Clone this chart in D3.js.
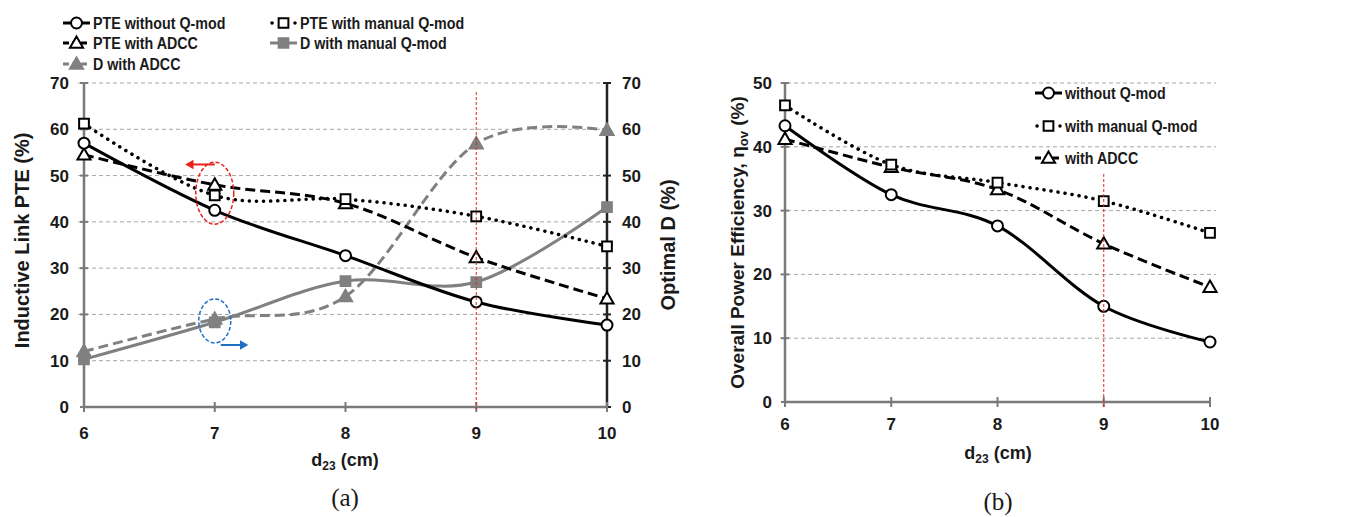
<!DOCTYPE html>
<html>
<head>
<meta charset="utf-8">
<script src="https://cdnjs.cloudflare.com/ajax/libs/d3/7.8.5/d3.min.js"></script>
<style>
  body { margin: 0; background: #fff; }
  svg text { font-family: "Liberation Sans", Arial, sans-serif; font-weight: bold; fill: #1a1a1a; }
  svg text.cap { font-family: "Liberation Serif", "Times New Roman", serif; font-weight: normal; }
</style>
</head>
<body>
<div id="chart"></div>
<script>
// shared x values (d23 in cm)
const distances = [6, 7, 8, 9, 10];

// (a) inductive link PTE and optimal D
const pteWithoutQmod = [57.0, 42.5, 32.7, 22.7, 17.7];
const pteManualQmod  = [61.2, 45.7, 44.9, 41.2, 34.7];
const pteAdcc        = [54.5, 48.0, 44.0, 32.3, 23.4];
const dManualQmod    = [10.3, 18.3, 27.2, 27.0, 43.2];
const dAdcc          = [12.0, 19.0, 23.9, 56.9, 59.8];

// (b) overall power efficiency
const ovWithoutQmod = [43.3, 32.5, 27.6, 15.0, 9.4];
const ovManualQmod  = [46.5, 37.2, 34.4, 31.5, 26.5];
const ovAdcc        = [41.2, 36.8, 33.3, 24.8, 18.0];

const ticksA = [0, 10, 20, 30, 40, 50, 60, 70];
const ticksB = [0, 10, 20, 30, 40, 50];

const GRAY = "#808080";
const AXIS = "#7a7a7a";
const TICK_FONT = 17;

const svg = d3.select("#chart").append("svg")
  .attr("width", 1353).attr("height", 517);

const styles = {
  solidBlack:  { stroke: "#000", dash: null, cap: "butt" },
  dashBlack:   { stroke: "#000", dash: "10,5", cap: "butt" },
  dotBlack:    { stroke: "#000", dash: "0.1,7", cap: "round" },
  solidGray:   { stroke: GRAY, dash: null, cap: "butt" },
  dashGray:    { stroke: GRAY, dash: "10,5", cap: "butt" }
};

function marker(g, shape, cx, cy, fill, stroke) {
  if (shape === "circle") {
    g.append("circle").attr("cx", cx).attr("cy", cy).attr("r", 5.5)
      .attr("fill", fill).attr("stroke", stroke).attr("stroke-width", 2);
  } else {
    const sym = shape === "square" ? d3.symbol(d3.symbolSquare, 95) : d3.symbol(d3.symbolTriangle, 75);
    g.append("path").attr("d", sym).attr("transform", `translate(${cx},${cy + (shape === "triangle" ? 1 : 0)})`)
      .attr("fill", fill).attr("stroke", stroke).attr("stroke-width", 2);
  }
}

function drawSeries(g, x, y, values, st, shape, fill) {
  const pts = distances.map((d, i) => [x(d), y(values[i])]);
  g.append("path")
    .attr("d", d3.line().curve(d3.curveCardinal.tension(0))(pts))
    .attr("fill", "none").attr("stroke", st.stroke).attr("stroke-width", st.cap === "round" ? 3.5 : 3)
    .attr("stroke-dasharray", st.dash).attr("stroke-linecap", st.cap);
  pts.forEach(p => marker(g, shape, p[0], p[1], fill, st.stroke));
}

function legendItem(g, lx, ly, label, st, shape, fill) {
  const dotted = st.cap === "round";
  g.append("line").attr("x1", dotted ? lx + 2 : lx).attr("x2", dotted ? lx + 25 : lx + 27)
    .attr("y1", ly).attr("y2", ly)
    .attr("stroke", st.stroke).attr("stroke-width", dotted ? 3.5 : 3)
    .attr("stroke-dasharray", st.dash ? (dotted ? "0.1,22.9" : "6,3") : null)
    .attr("stroke-linecap", st.cap);
  marker(g, shape, lx + 13.5, ly, fill, st.stroke);
  // narrow bold look of the original legend font
  g.append("text").attr("transform", `translate(${lx + 30},${ly + 6}) scale(0.84,1)`)
    .attr("font-size", 17).text(label);
}

function xAxisTitle(g, cx, cy) {
  const t = g.append("text").attr("x", cx).attr("y", cy).attr("text-anchor", "middle").attr("font-size", 18);
  t.append("tspan").text("d");
  t.append("tspan").attr("font-size", 12).attr("dy", 4).text("23");
  t.append("tspan").attr("dy", -4).text(" (cm)");
}

function crossTicksY(g, y, ticks, x0, color) {
  g.selectAll(null).data(ticks).join("line")
    .attr("x1", x0 - 4).attr("x2", x0 + 4)
    .attr("y1", d => y(d)).attr("y2", d => y(d))
    .attr("stroke", color).attr("stroke-width", 2);
}

// ---------------- (a) ----------------
{
  const g = svg.append("g");
  const x = d3.scaleLinear().domain([6, 10]).range([84, 607]);
  const y = d3.scaleLinear().domain([0, 70]).range([407, 83]);

  g.selectAll(".grid").data(ticksA.slice(1)).join("line")
    .attr("x1", 78).attr("x2", 607).attr("y1", d => y(d)).attr("y2", d => y(d))
    .attr("stroke", "#a6a6a6").attr("stroke-width", 1).attr("stroke-dasharray", "4,3");

  // axes
  g.append("line").attr("x1", x(6)).attr("x2", x(6)).attr("y1", y(70)).attr("y2", y(0)).attr("stroke", AXIS).attr("stroke-width", 2.5);
  crossTicksY(g, y, ticksA, x(6), AXIS);
  g.append("line").attr("x1", x(10)).attr("x2", x(10)).attr("y1", y(70)).attr("y2", y(0)).attr("stroke", "#222").attr("stroke-width", 2.5);
  crossTicksY(g, y, ticksA, x(10), "#222");
  g.append("line").attr("x1", x(6)).attr("x2", x(10)).attr("y1", y(0)).attr("y2", y(0)).attr("stroke", AXIS).attr("stroke-width", 2.5);
  g.selectAll(".xt").data(distances).join("line")
    .attr("x1", d => x(d)).attr("x2", d => x(d)).attr("y1", y(0) - 5).attr("y2", y(0) + 5)
    .attr("stroke", AXIS).attr("stroke-width", 2);

  g.selectAll(".yl").data(ticksA).join("text")
    .attr("x", x(6) - 15).attr("y", d => y(d) + 6).attr("text-anchor", "end").attr("font-size", TICK_FONT).text(d => d);
  g.selectAll(".yr").data(ticksA).join("text")
    .attr("x", x(10) + 15).attr("y", d => y(d) + 6).attr("text-anchor", "start").attr("font-size", TICK_FONT).text(d => d);
  g.selectAll(".xl").data(distances).join("text")
    .attr("x", d => x(d)).attr("y", 439).attr("text-anchor", "middle").attr("font-size", TICK_FONT).text(d => d);

  g.append("text").attr("transform", `translate(29,${y(36)}) rotate(-90)`).attr("text-anchor", "middle")
    .attr("font-size", 20).text("Inductive Link PTE (%)");
  g.append("text").attr("transform", `translate(675,${y(35)}) rotate(-90)`).attr("text-anchor", "middle")
    .attr("font-size", 20).text("Optimal D (%)");
  xAxisTitle(g, 345, 466);
  g.append("text").attr("class", "cap").attr("x", 345).attr("y", 506).attr("text-anchor", "middle").attr("font-size", 25).text("(a)");

  drawSeries(g, x, y, dAdcc, styles.dashGray, "triangle", GRAY);
  drawSeries(g, x, y, dManualQmod, styles.solidGray, "square", GRAY);
  drawSeries(g, x, y, pteAdcc, styles.dashBlack, "triangle", "#fff");
  drawSeries(g, x, y, pteManualQmod, styles.dotBlack, "square", "#fff");
  drawSeries(g, x, y, pteWithoutQmod, styles.solidBlack, "circle", "#fff");

  // annotations: left arrow for PTE, right arrow for D
  g.append("ellipse").attr("cx", x(7)).attr("cy", y(46.2)).attr("rx", 19).attr("ry", 31)
    .attr("fill", "none").attr("stroke", "#e8211c").attr("stroke-width", 1.5).attr("stroke-dasharray", "4,2");
  g.append("line").attr("x1", x(7)).attr("x2", x(7) - 22).attr("y1", y(52.4)).attr("y2", y(52.4))
    .attr("stroke", "#e8211c").attr("stroke-width", 2);
  g.append("path").attr("d", d3.symbol(d3.symbolTriangle, 40)).attr("fill", "#e8211c")
    .attr("transform", `translate(${x(7) - 24},${y(52.4)}) rotate(-90)`);
  g.append("ellipse").attr("cx", x(7)).attr("cy", y(18.6)).attr("rx", 16).attr("ry", 22)
    .attr("fill", "none").attr("stroke", "#1f6fc4").attr("stroke-width", 1.5).attr("stroke-dasharray", "4,2");
  g.append("line").attr("x1", x(7) + 6).attr("x2", x(7) + 26).attr("y1", y(13.4)).attr("y2", y(13.4))
    .attr("stroke", "#1f6fc4").attr("stroke-width", 2);
  g.append("path").attr("d", d3.symbol(d3.symbolTriangle, 40)).attr("fill", "#1f6fc4")
    .attr("transform", `translate(${x(7) + 28},${y(13.4)}) rotate(90)`);

  g.append("line").attr("x1", x(9)).attr("x2", x(9)).attr("y1", 92).attr("y2", y(0) + 5)
    .attr("stroke", "#e8211c").attr("stroke-width", 1).attr("stroke-dasharray", "3,2");

  legendItem(g, 63, 23, "PTE without Q-mod", styles.solidBlack, "circle", "#fff");
  legendItem(g, 63, 43, "PTE with ADCC", styles.dashBlack, "triangle", "#fff");
  legendItem(g, 63, 64, "D with ADCC", styles.dashGray, "triangle", GRAY);
  legendItem(g, 270, 23, "PTE with manual Q-mod", styles.dotBlack, "square", "#fff");
  legendItem(g, 270, 43, "D with manual Q-mod", styles.solidGray, "square", GRAY);
}

// ---------------- (b) ----------------
{
  const g = svg.append("g");
  const x = d3.scaleLinear().domain([6, 10]).range([785, 1210]);
  const y = d3.scaleLinear().domain([0, 50]).range([402, 83]);

  g.selectAll(".grid").data(ticksB.slice(1)).join("line")
    .attr("x1", 780).attr("x2", 1216).attr("y1", d => y(d)).attr("y2", d => y(d))
    .attr("stroke", "#a6a6a6").attr("stroke-width", 1).attr("stroke-dasharray", "4,3");

  g.append("line").attr("x1", x(6)).attr("x2", x(6)).attr("y1", y(50)).attr("y2", y(0)).attr("stroke", AXIS).attr("stroke-width", 2.5);
  crossTicksY(g, y, ticksB, x(6), AXIS);
  g.append("line").attr("x1", x(6)).attr("x2", x(10)).attr("y1", y(0)).attr("y2", y(0)).attr("stroke", AXIS).attr("stroke-width", 2.5);
  g.selectAll(".xt").data(distances).join("line")
    .attr("x1", d => x(d)).attr("x2", d => x(d)).attr("y1", y(0) - 5).attr("y2", y(0) + 5)
    .attr("stroke", AXIS).attr("stroke-width", 2);

  g.selectAll(".yl").data(ticksB).join("text")
    .attr("x", x(6) - 13).attr("y", d => y(d) + 6).attr("text-anchor", "end").attr("font-size", TICK_FONT).text(d => d);
  g.selectAll(".xl").data(distances).join("text")
    .attr("x", d => x(d)).attr("y", 430).attr("text-anchor", "middle").attr("font-size", TICK_FONT).text(d => d);

  const yt = g.append("text").attr("transform", `translate(744,${y(25)}) rotate(-90)`).attr("text-anchor", "middle")
    .attr("font-size", 19);
  yt.append("tspan").text("Overall Power Efficiency, η");
  yt.append("tspan").attr("font-size", 13).attr("dy", 4).text("ov");
  yt.append("tspan").attr("dy", -4).text(" (%)");
  xAxisTitle(g, 998, 459);
  g.append("text").attr("class", "cap").attr("x", 998).attr("y", 510).attr("text-anchor", "middle").attr("font-size", 25).text("(b)");

  drawSeries(g, x, y, ovAdcc, styles.dashBlack, "triangle", "#fff");
  drawSeries(g, x, y, ovManualQmod, styles.dotBlack, "square", "#fff");
  drawSeries(g, x, y, ovWithoutQmod, styles.solidBlack, "circle", "#fff");

  g.append("line").attr("x1", x(9)).attr("x2", x(9)).attr("y1", 174).attr("y2", y(0) + 5)
    .attr("stroke", "#e8211c").attr("stroke-width", 1).attr("stroke-dasharray", "3,2");

  legendItem(g, 1035, 93, "without Q-mod", styles.solidBlack, "circle", "#fff");
  legendItem(g, 1035, 126, "with manual Q-mod", styles.dotBlack, "square", "#fff");
  legendItem(g, 1035, 158, "with ADCC", styles.dashBlack, "triangle", "#fff");
}
</script>
</body>
</html>
